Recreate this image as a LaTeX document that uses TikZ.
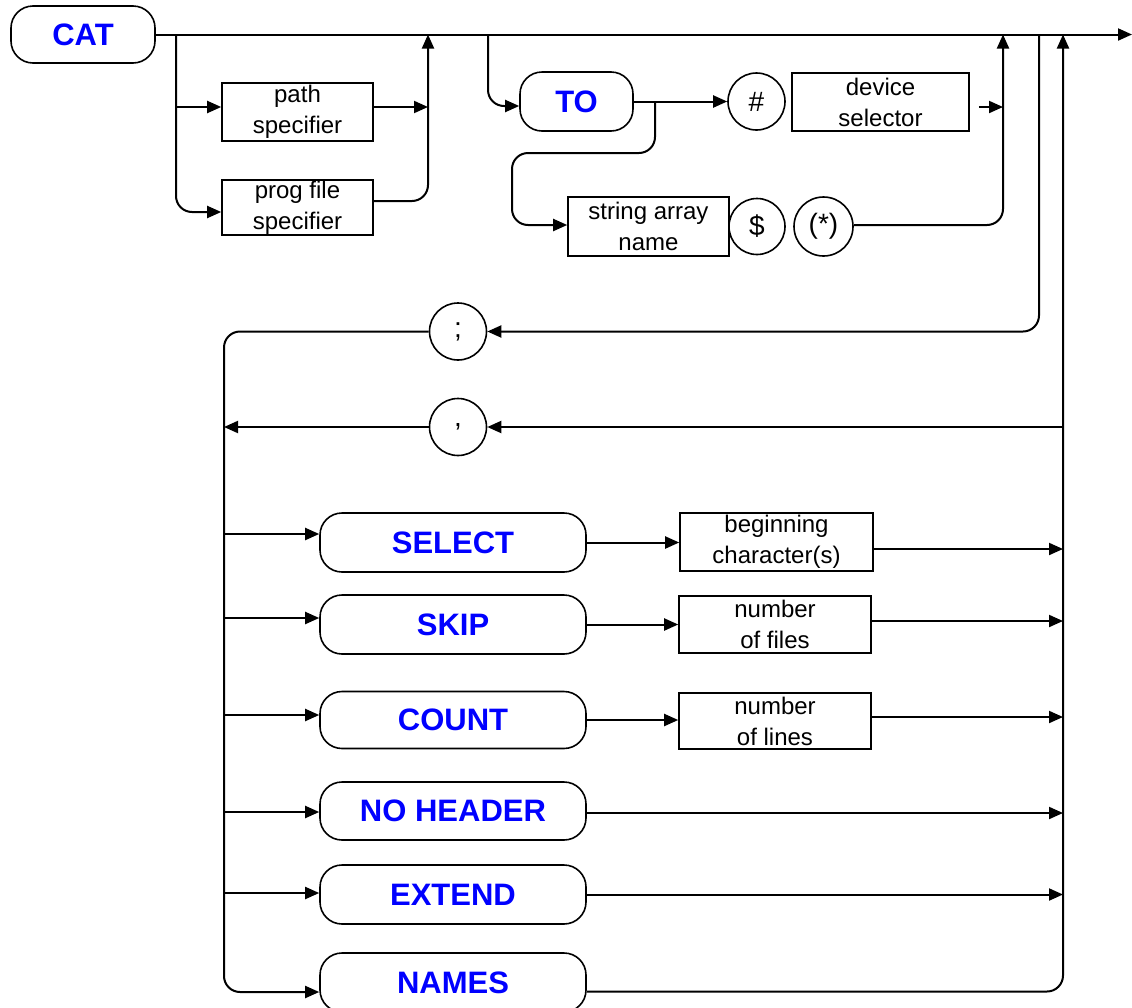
\documentclass[tikz,border=0pt]{standalone}
\usepackage{fontspec}
\setmainfont{Liberation Sans}
\usetikzlibrary{arrows.meta}
\definecolor{kwblue}{RGB}{0,0,255}
\begin{document}
\begin{tikzpicture}[x=1pt,y=-1pt,
 kw/.style={draw, line width=1.6pt, rounded corners=22pt, text=kwblue,
   font=\fontsize{31}{36}\selectfont\bfseries, inner sep=0pt,
   minimum width=266pt, minimum height=59pt},
 txtbox/.style={draw, line width=1.6pt, font=\fontsize{24}{31}\selectfont,
   align=center, inner sep=0pt},
 sym/.style={draw, line width=1.6pt, circle, minimum size=57pt, inner sep=0pt,
   font=\fontsize{28}{32}\selectfont},
 conn/.style={line width=2pt},
 arr/.style={conn, -{Triangle[length=14pt,width=12pt]}},
 rcorner/.style={rounded corners=16pt}
]
\path[use as bounding box, fill=white] (0,0) rectangle (1132,1007);

% nodes
\node[kw, minimum width=144pt, minimum height=57pt] (cat) at (83,34.5) {CAT};
\node[txtbox, minimum width=151pt, minimum height=58pt] (path) at (297.5,112) {path\\specifier};
\node[txtbox, minimum width=151pt, minimum height=55pt] (prog) at (297.5,207.5) {prog file\\specifier};
\node[kw, minimum width=113pt, minimum height=59pt] (to) at (576.5,101.5) {TO};
\node[sym] (hash) at (756.5,101.5) {\#};
\node[txtbox, minimum width=177pt, minimum height=58pt] (dev) at (880.5,102) {device\\selector};
\node[txtbox, minimum width=161pt, minimum height=59pt] (sarr) at (648.5,226.5) {string array\\name};
\node[sym, minimum size=56pt] (dollar) at (757,226.5) {\$};
\node[sym, minimum size=59pt] (star) at (823.5,226.5) {(*)};
\node[sym] (semi) at (458,331.5) {;};
\node[sym] (comma) at (458,427) {,};
\node[kw] (select) at (453,542.5) {SELECT};
\node[txtbox, minimum width=193pt, minimum height=58pt] (begc) at (776.5,542) {beginning\\character(s)};
\node[kw] (skip) at (453,624.5) {SKIP};
\node[txtbox, minimum width=192pt, minimum height=57pt] (nfiles) at (775,624.5) {number\\of files};
\node[kw, minimum height=57pt] (count) at (453,720) {COUNT};
\node[txtbox, minimum width=192pt, minimum height=56pt] (nlines) at (775,721) {number\\of lines};
\node[kw, minimum height=58pt] (nohdr) at (453,811) {NO HEADER};
\node[kw] (extend) at (453,894.5) {EXTEND};
\node[kw] (names) at (453,982.5) {NAMES};

% junction coordinates
\coordinate (j1) at (176,34.5);
\coordinate (j2) at (428,34.5);
\coordinate (j3) at (488,34.5);
\coordinate (j4) at (1003,34.5);
\coordinate (j5) at (1039,34.5);
\coordinate (j6) at (1063,34.5);
\coordinate (fin) at (1132,34.5);
\coordinate (lr) at (224,600);
\coordinate (tb) at (655,101.5);
\coordinate (tbm) at (512,153);

% main line
\draw[arr] (cat.east) -- (fin);

% path / prog file branch
\draw[arr] ([yshift=5pt]path.west -| j1) -- ([yshift=5pt]path.west);
\draw[arr,rcorner] (j1) |- ([yshift=-4.5pt]prog.west);
\draw[arr] ([yshift=5pt]path.east) -- ([yshift=5pt]path.east -| j2);
\draw[arr,rcorner] ([yshift=6.5pt]prog.east) -| (j2);

% TO branch
\draw[arr,rcorner] (j3) |- ([yshift=-4.5pt]to.west);
\draw[arr] (to.east) -- (hash.west);
\draw[arr] ([xshift=9pt,yshift=-5pt]dev.east) -- ([yshift=-5pt]dev.east -| j4);
\draw[arr,rcorner] (tb) |- (tbm) |- ([yshift=1.5pt]sarr.west);
\draw[arr,rcorner] ([yshift=1.5pt]star.east) -| (j4);

% loop back via ; and ,
\draw[arr,rcorner] (j5) |- (semi.east);
\draw[arr,rcorner] (semi.west) -| (lr) |- ([yshift=-9.5pt]names.west);
\draw[arr] (comma.east -| j6) -- (comma.east);
\draw[arr] (comma.west) -- (comma.west -| lr);

% options entries
\draw[arr] ([yshift=8.5pt]select.west -| lr) -- ([yshift=8.5pt]select.west);
\draw[arr] ([yshift=6.5pt]skip.west -| lr) -- ([yshift=6.5pt]skip.west);
\draw[arr] ([yshift=5pt]count.west -| lr) -- ([yshift=5pt]count.west);
\draw[arr] ([yshift=-1pt]nohdr.west -| lr) -- ([yshift=-1pt]nohdr.west);
\draw[arr] ([yshift=1.5pt]extend.west -| lr) -- ([yshift=1.5pt]extend.west);

\draw[arr] (select.east) -- (select.east -| begc.west);
\draw[arr] (skip.east) -- (skip.east -| nfiles.west);
\draw[arr] (count.east) -- (count.east -| nlines.west);

% options exits
\draw[arr] ([yshift=-7pt]begc.east) -- ([yshift=-7pt]begc.east -| j6);
\draw[arr] ([yshift=3.5pt]nfiles.east) -- ([yshift=3.5pt]nfiles.east -| j6);
\draw[arr] ([yshift=4pt]nlines.east) -- ([yshift=4pt]nlines.east -| j6);
\draw[arr] ([yshift=-2pt]nohdr.east) -- ([yshift=-2pt]nohdr.east -| j6);
\draw[arr] (extend.east) -- (extend.east -| j6);
\draw[arr,rcorner] ([yshift=-9pt]names.east) -| (j6);
\end{tikzpicture}
\end{document}
